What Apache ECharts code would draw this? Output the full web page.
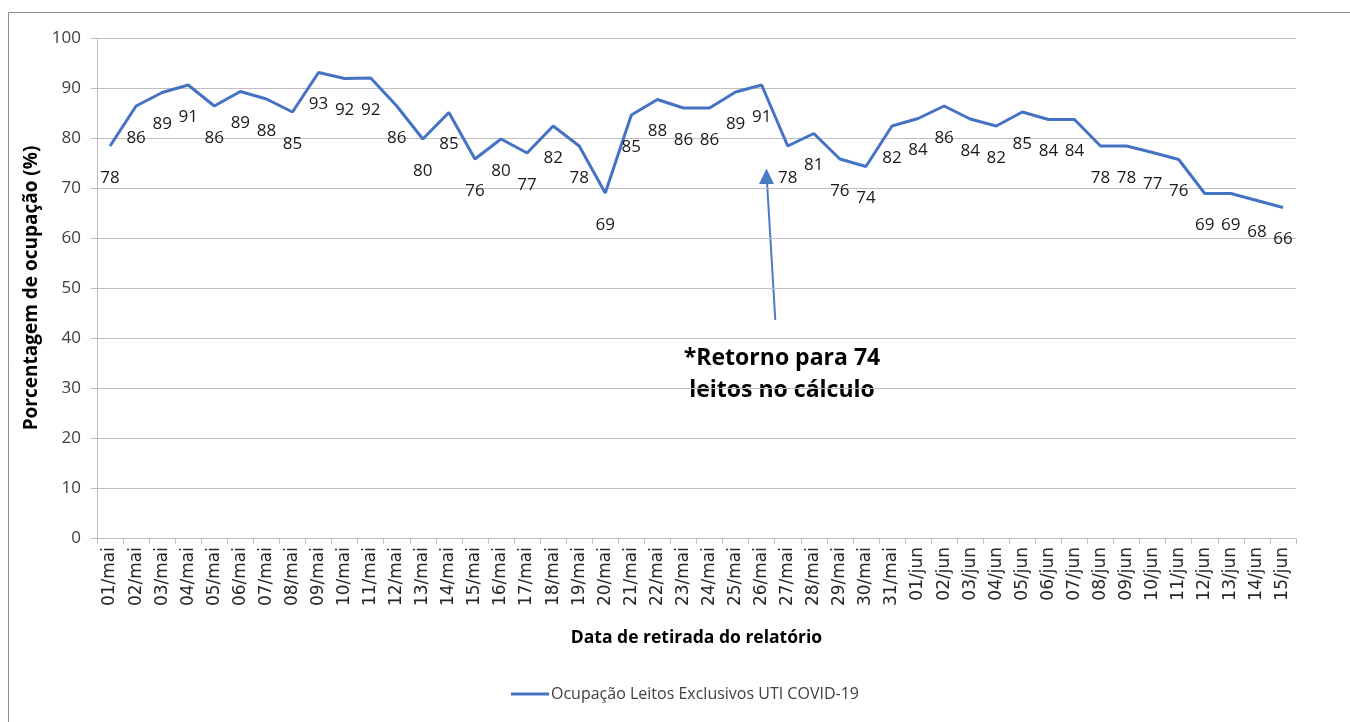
<!DOCTYPE html>
<html>
<head>
<meta charset="utf-8">
<script src="https://cdn.jsdelivr.net/npm/echarts@6/dist/echarts.min.js"></script>
<style>
html,body{margin:0;padding:0;background:#fff;}
#chart{width:1350px;height:722px;}
</style>
</head>
<body>
<div id="chart"></div>
<script>
const categories = [
  "01/mai","02/mai","03/mai","04/mai","05/mai","06/mai","07/mai","08/mai","09/mai","10/mai",
  "11/mai","12/mai","13/mai","14/mai","15/mai","16/mai","17/mai","18/mai","19/mai","20/mai",
  "21/mai","22/mai","23/mai","24/mai","25/mai","26/mai","27/mai","28/mai","29/mai","30/mai",
  "31/mai","01/jun","02/jun","03/jun","04/jun","05/jun","06/jun","07/jun","08/jun","09/jun",
  "10/jun","11/jun","12/jun","13/jun","14/jun","15/jun"
];
const ocupacao = [
  78.4, 86.4, 89.1, 90.6, 86.4, 89.3, 87.8, 85.2, 93.1, 91.9,
  92.0, 86.4, 79.8, 85.1, 75.8, 79.8, 77.0, 82.4, 78.4, 69.0,
  84.6, 87.7, 86.0, 86.0, 89.2, 90.6, 78.4, 80.9, 75.8, 74.3,
  82.4, 83.9, 86.4, 83.8, 82.4, 85.2, 83.7, 83.7, 78.4, 78.4,
  77.1, 75.7, 68.9, 68.9, 67.5, 66.1
];
const seriesName = "Ocupação Leitos Exclusivos UTI COVID-19";
const yAxisTitle = "Porcentagem de ocupação (%)";
const xAxisTitle = "Data de retirada do relatório";
const noteLines = ["*Retorno para 74", "leitos no cálculo"];

const chart = echarts.init(document.getElementById('chart'), null, {renderer: 'canvas'});
const axisGray = '#bfbfbf';
const lineBlue = '#4472C4';
const option = {
  animation: false,
  backgroundColor: '#ffffff',
  grid: {left: 97, right: 54, top: 38, bottom: 184, containLabel: false},
  legend: {
    show: true,
    left: 506,
    top: 681,
    icon: 'rect',
    itemWidth: 38,
    itemHeight: 3,
    itemGap: 0,
    itemStyle: {color: lineBlue, opacity: 1},
    textStyle: {fontFamily: 'Open Sans', fontSize: 16, color: '#404040', padding: [0,0,0,-3]},
    data: [seriesName]
  },
  xAxis: {
    type: 'category',
    data: categories,
    boundaryGap: true,
    name: xAxisTitle,
    nameLocation: 'middle',
    nameGap: 91,
    nameTextStyle: {fontFamily: 'Open Sans', fontWeight: 'bold', fontSize: 17.5, color: '#000'},
    axisLine: {show: true, lineStyle: {color: axisGray, width: 1}},
    axisTick: {show: true, length: 6, alignWithLabel: false, interval: 0, lineStyle: {color: axisGray}},
    axisLabel: {interval: 0, rotate: 90, margin: 9, fontFamily: 'DejaVu Sans', fontSize: 17, color: '#262626'},
    splitLine: {show: false}
  },
  yAxis: {
    type: 'value',
    min: 0, max: 100, interval: 10,
    name: yAxisTitle,
    nameLocation: 'middle',
    nameGap: 55,
    nameTextStyle: {fontFamily: 'Open Sans', fontWeight: 'bold', fontSize: 19, color: '#000'},
    axisLine: {show: true, lineStyle: {color: axisGray, width: 1}},
    axisTick: {show: true, length: 6, lineStyle: {color: axisGray}},
    axisLabel: {margin: 16, fontFamily: 'Open Sans', fontSize: 17, color: '#404040'},
    splitLine: {show: true, lineStyle: {color: axisGray, width: 1}}
  },
  series: [{
    name: seriesName,
    type: 'line',
    data: ocupacao,
    smooth: false,
    showSymbol: true,
    symbol: 'circle',
    symbolSize: 1,
    lineStyle: {color: lineBlue, width: 3},
    itemStyle: {color: lineBlue, opacity: 0},
    label: {
      show: true,
      position: 'bottom',
      distance: 23,
      fontFamily: 'Open Sans',
      fontSize: 17,
      color: '#1a1a1a',
      opacity: 1,
      formatter: p => String(Math.round(p.value))
    },
    labelLayout: {hideOverlap: false}
  }],
  graphic: [
    {type: 'rect', silent: true, z: -1,
     shape: {x: 8.5, y: 12.5, width: 1400, height: 800},
     style: {fill: 'none', stroke: '#8c8c8c', lineWidth: 1}},
    {type: 'line', silent: true,
     shape: {x1: 775.3, y1: 320, x2: 767, y2: 182},
     style: {stroke: '#4a7cc4', lineWidth: 2}},
    {type: 'polygon', silent: true,
     shape: {points: [[766.5, 168.5], [759, 184], [774, 184]]},
     style: {fill: '#4a7cc4'}},
    {type: 'text', silent: true, x: 782, y: 358,
     style: {text: noteLines[0], fontFamily: 'Open Sans', fontWeight: 'bold', fontSize: 23, fill: '#000', align: 'center', verticalAlign: 'middle'}},
    {type: 'text', silent: true, x: 782, y: 390,
     style: {text: noteLines[1], fontFamily: 'Open Sans', fontWeight: 'bold', fontSize: 23, fill: '#000', align: 'center', verticalAlign: 'middle'}}
  ]
};
chart.setOption(option);
</script>
</body>
</html>
